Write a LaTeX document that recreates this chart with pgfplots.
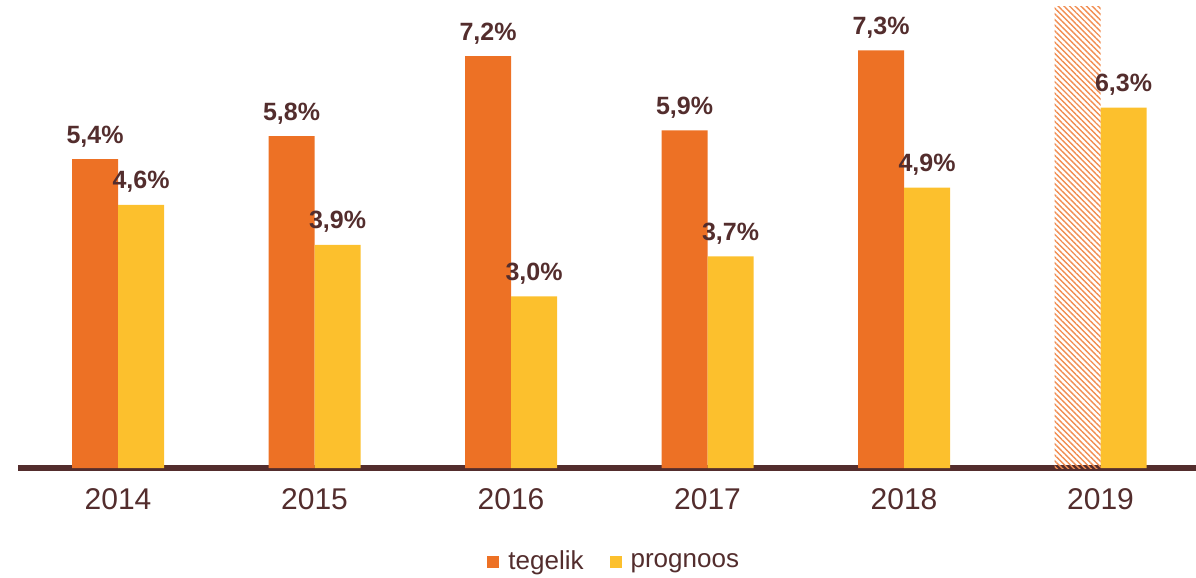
\documentclass[border=0pt]{standalone}
\usepackage{fontspec}
\setmainfont{Liberation Sans}
\usepackage{pgfplots}
\pgfplotsset{compat=1.18}
\usetikzlibrary{patterns.meta}
\definecolor{tegelik}{RGB}{237,113,37}
\definecolor{prognoos}{RGB}{252,192,45}
\definecolor{txt}{RGB}{83,45,45}

\begin{document}
\begin{tikzpicture}
\begin{axis}[
  name=ax,
  width=589pt, height=234pt,
  scale only axis,
  ybar, bar width=23pt,
  ymin=0, ymax=8.18,
  xmin=-0.509, xmax=5.486,
  axis y line=none,
  axis x line*=bottom,
  x axis line style={line width=3pt, color=txt, -},
  xtick={0,...,5},
  xticklabels={2014,2015,2016,2017,2018,2019},
  major tick length=0pt,
  xticklabel style={font=\fontsize{15}{18}\selectfont, text=txt, inner sep=0pt, yshift=-10pt},
  /pgf/number format/assume math mode=true,
  nodes near coords={\pgfmathprintnumber[fixed, fixed zerofill, precision=1, use comma]{\pgfplotspointmeta}\%},
  every node near coord/.append style={font=\bfseries\fontsize{12.5}{15}\selectfont, text=txt, inner sep=0pt, anchor=base, yshift=8pt},
  legend style={draw=none, at={(0.507,-0.2)}, anchor=center, legend columns=2,
    font=\fontsize{13}{15}\selectfont, text=txt,
    /tikz/every odd column/.append style={column sep=2.5pt},
    /tikz/every even column/.append style={column sep=11pt}},
  legend image code/.code={\fill[#1] (0pt,-3pt) rectangle (6pt,3pt);},
  clip=false,
]
\addplot[fill=tegelik, draw=none, bar shift=-11.5pt] coordinates {(0,5.4) (1,5.8) (2,7.2) (3,5.9) (4,7.3)};
\addplot[fill=prognoos, draw=none, bar shift=11.5pt] coordinates {(0,4.6) (1,3.9) (2,3.0) (3,3.7) (4,4.9) (5,6.3)};
\addplot[draw=none, bar shift=-11.5pt, nodes near coords={}, forget plot,
  pattern={Lines[angle=-45, distance=2pt, line width=0.7pt]}, pattern color=tegelik!80]
  coordinates {(5,8.06)};
\legend{tegelik, prognoos}
\end{axis}
\pgfresetboundingbox
\path[use as bounding box] ([xshift=-9pt,yshift=-54.5pt]ax.south west) rectangle (ax.north east);
\end{tikzpicture}
\end{document}
